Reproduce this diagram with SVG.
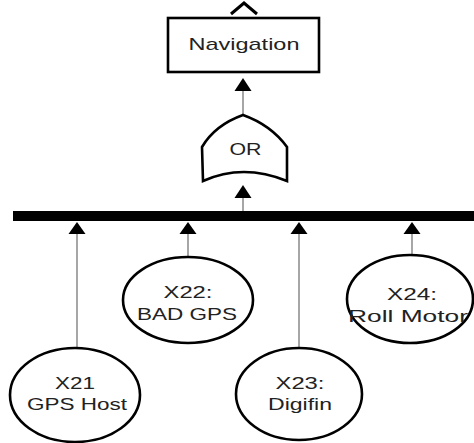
<svg xmlns="http://www.w3.org/2000/svg" width="474" height="443" viewBox="0 0 474 443">
<style>
.t{font-family:"Liberation Sans",Arial,sans-serif;font-size:17px;fill:#222;text-anchor:middle}
.shape{fill:#fff;stroke:#000;stroke-width:2.6}
.conn{stroke:#777;stroke-width:1.3;fill:none}
.head{fill:#000}
</style>
<rect width="474" height="443" fill="#fff"/>
<g id="connectors">
<polyline points="231,14 244,3 257,14" fill="none" stroke="#000" stroke-width="3"/>
<line class="conn" x1="243" y1="90" x2="243" y2="116"/>
<polygon class="head" points="243,78 234.5,91 251.5,91"/>
<line class="conn" x1="243" y1="197" x2="243" y2="211"/>
<polygon class="head" points="243,185 234.5,198 251.5,198"/>
<line class="conn" x1="77" y1="233" x2="77" y2="348"/>
<polygon class="head" points="77,222 68.5,234 85.5,234"/>
<line class="conn" x1="188" y1="233" x2="188" y2="258"/>
<polygon class="head" points="188,222 179.5,234 196.5,234"/>
<line class="conn" x1="299" y1="233" x2="299" y2="348"/>
<polygon class="head" points="299,222 290.5,234 307.5,234"/>
<line class="conn" x1="412" y1="233" x2="412" y2="256"/>
<polygon class="head" points="412,222 403.5,234 420.5,234"/>
</g>
<g id="bus">
<rect x="13" y="211" width="461" height="10" fill="#000"/>
</g>
<g id="navigation">
<rect class="shape" x="168" y="18" width="151" height="54" stroke-width="3"/>
<text class="t" x="244" y="50" font-size="18" textLength="111" lengthAdjust="spacingAndGlyphs">Navigation</text>
</g>
<g id="or-gate">
<path class="shape" d="M243,115 Q215,125 202,147 L203,181 Q243,163 287,181 L287,147 Q271,125 243,115 Z"/>
<text class="t" x="245.5" y="155" textLength="32" lengthAdjust="spacingAndGlyphs">OR</text>
</g>
<g id="x21">
<ellipse class="shape" cx="75" cy="395" rx="65" ry="47"/>
<text class="t" x="75" y="389" textLength="40" lengthAdjust="spacingAndGlyphs">X21</text>
<text class="t" x="77" y="410" textLength="100" lengthAdjust="spacingAndGlyphs">GPS Host</text>
</g>
<g id="x22">
<ellipse class="shape" cx="188" cy="300" rx="65" ry="43"/>
<text class="t" x="188" y="298" textLength="49" lengthAdjust="spacingAndGlyphs">X22:</text>
<text class="t" x="187" y="320" textLength="100" lengthAdjust="spacingAndGlyphs">BAD GPS</text>
</g>
<g id="x23">
<ellipse class="shape" cx="299" cy="394" rx="63" ry="46"/>
<text class="t" x="300" y="389" textLength="49" lengthAdjust="spacingAndGlyphs">X23:</text>
<text class="t" x="300" y="410" textLength="64" lengthAdjust="spacingAndGlyphs">Digifin</text>
</g>
<g id="x24">
<ellipse class="shape" cx="410" cy="299" rx="63" ry="44"/>
<text class="t" x="412" y="300" textLength="50" lengthAdjust="spacingAndGlyphs">X24:</text>
<text class="t" x="408" y="322" textLength="120" lengthAdjust="spacingAndGlyphs">Roll Motor</text>
</g>
</svg>
